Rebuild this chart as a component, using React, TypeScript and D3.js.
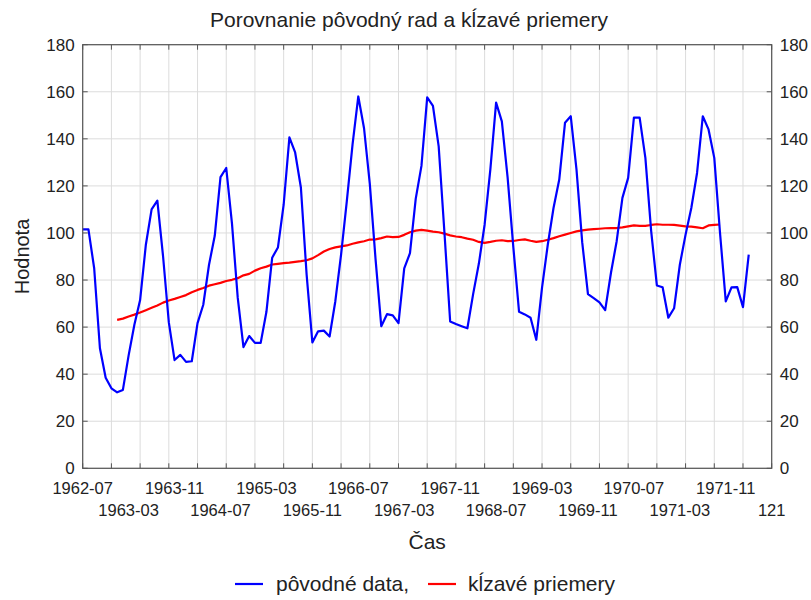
import React from "react";
import * as d3 from "d3";

// ---- data ----
const originalValues: number[] = [
  101.5, 101.5, 85, 51, 38.5, 34, 32.3, 33.3, 48, 61,
  71.5, 95, 110, 113.7, 90, 62, 46, 48.2, 45.2, 45.5,
  61.7, 69.5, 86.5, 98.8, 123.7, 127.6, 104, 72.5, 51.5, 56.2,
  53.3, 53.3, 66.5, 89.5, 93.8, 112, 140.6, 134.2, 119.3, 82.3,
  53.5, 58.2, 58.5, 56, 71, 90.8, 113.5, 137.6, 158, 144.5,
  121, 89, 60.4, 65.5, 65, 61.7, 85, 91.4, 114.5, 128.5,
  157.6, 154, 136.8, 100.3, 62.4, 61.3, 60.4, 59.5, 74, 87,
  103.5, 127, 155.4, 147.4, 123.7, 94, 66.5, 65.4, 64, 54.6,
  76.8, 95, 110.6, 122.7, 146.8, 149.6, 127, 96, 74, 72.3,
  70.5, 67.2, 83, 96.5, 114.9, 123.4, 149, 149, 131.9, 101,
  77.7, 76.9, 64, 68, 86.5, 99.3, 110.6, 125.5, 149.6, 144,
  131.9, 100, 70.9, 76.9, 77, 68.5, 90.8,
];

const movingAvgStart = 7; // first case number with a moving average value
const movingAvgValues: number[] = [
  63.1, 63.6, 64.5, 65.3, 66.2, 67.2, 68.2, 69.2, 70.4, 71.3,
  72, 72.8, 73.6, 74.8, 75.8, 76.6, 77.6, 78.2, 78.8, 79.6,
  80.1, 80.8, 82, 82.6, 84, 85, 85.7, 86.6, 86.9, 87.2,
  87.4, 87.7, 88, 88.4, 89.2, 90.6, 92.1, 93.2, 93.9, 94.3,
  94.7, 95.4, 96, 96.5, 97.2, 97.3, 97.8, 98.5, 98.2, 98.3,
  99.2, 100.3, 101, 101.3, 101, 100.6, 100.3, 99.7, 99, 98.5,
  98.2, 97.6, 97.1, 96.2, 95.8, 96.2, 96.7, 96.9, 96.5, 96.6,
  97, 97.3, 96.7, 96.2, 96.5, 97.1, 97.8, 98.6, 99.3, 100,
  100.7, 101.1, 101.4, 101.6, 101.8, 102, 102.1, 102.1, 102.4, 102.8,
  103.2, 103, 103, 103.4, 103.7, 103.5, 103.5, 103.4, 103.1, 102.8,
  102.7, 102.4, 102, 103.2, 103.4, 103.6,
];

const xTickCases: number[] = [1, 9, 17, 25, 33, 41, 49, 57, 65, 73, 81, 89, 97, 105, 113, 121];
const xTickLabels: string[] = [
  "1962-07", "1963-03", "1963-11", "1964-07", "1965-03", "1965-11", "1966-07", "1967-03",
  "1967-11", "1968-07", "1969-03", "1969-11", "1970-07", "1971-03", "1971-11", "121",
];
const yTicks: number[] = [0, 20, 40, 60, 80, 100, 120, 140, 160, 180];
const xGridCases: number[] = d3.range(1, 122, 5);

const titleText = "Porovnanie pôvodný rad a kĺzavé priemery";
const xTitle = "Čas";
const yTitle = "Hodnota";
const seriesNames = ["pôvodné data,", "kĺzavé priemery"];

// ---- layout ----
const W = 811;
const H = 600;
const L = 82.7;
const R = 771.7;
const T = 44.7;
const B = 468.3;
const FONT = "'Liberation Sans', Arial, sans-serif";
const TEXT = "#222";
const FRAME = "#555";
const GRID = "#dcdcdc";

export default function App() {
  const x = d3.scaleLinear().domain([1, 121]).range([L, R]);
  const y = d3.scaleLinear().domain([0, 180]).range([B, T]);

  const origPts: [number, number][] = originalValues.map((v, i) => [i + 1, v]);
  const maPts: [number, number][] = movingAvgValues.map((v, i) => [movingAvgStart + i, v]);
  const line = d3
    .line<[number, number]>()
    .x((d) => x(d[0]))
    .y((d) => y(d[1]));

  return (
    <svg
      width={W}
      height={H}
      style={{ position: "absolute", left: 0, top: 0, background: "#fff" }}
      fontFamily={FONT}
    >
      <rect x={0} y={0} width={W} height={H} fill="#fff" />
      <text x={409} y={27} textAnchor="middle" fontSize={21} fill={TEXT}>
        {titleText}
      </text>

      {/* grid */}
      {xGridCases.map((c) => (
        <line key={"gx" + c} x1={x(c)} x2={x(c)} y1={T} y2={B} stroke={GRID} strokeWidth={1} />
      ))}
      {yTicks.map((v) => (
        <line key={"gy" + v} x1={L} x2={R} y1={y(v)} y2={y(v)} stroke={GRID} strokeWidth={1} />
      ))}

      {/* ticks inside frame */}
      {xGridCases.map((c) => (
        <g key={"tx" + c}>
          <line x1={x(c)} x2={x(c)} y1={B} y2={B - 5} stroke={FRAME} />
          <line x1={x(c)} x2={x(c)} y1={T} y2={T + 5} stroke={FRAME} />
        </g>
      ))}
      {yTicks.map((v) => (
        <g key={"ty" + v}>
          <line x1={L} x2={L + 5} y1={y(v)} y2={y(v)} stroke={FRAME} />
          <line x1={R} x2={R - 5} y1={y(v)} y2={y(v)} stroke={FRAME} />
        </g>
      ))}

      {/* series */}
      <path d={line(maPts) || ""} fill="none" stroke="#ff0000" strokeWidth={2.2} strokeLinejoin="round" />
      <path d={line(origPts) || ""} fill="none" stroke="#0000ff" strokeWidth={2.2} strokeLinejoin="round" />

      {/* frame */}
      <rect x={L} y={T} width={R - L} height={B - T} fill="none" stroke={FRAME} strokeWidth={1.2} />

      {/* y tick labels */}
      {yTicks.map((v) => (
        <g key={"yl" + v}>
          <text x={L - 8} y={y(v) + 6} textAnchor="end" fontSize={17} fill={TEXT}>
            {v}
          </text>
          <text x={R + 8} y={y(v) + 6} textAnchor="start" fontSize={17} fill={TEXT}>
            {v}
          </text>
        </g>
      ))}

      {/* x tick labels */}
      {xTickCases.map((c, i) => (
        <text
          key={"xl" + c}
          x={x(c)}
          y={i % 2 === 0 ? 494 : 516}
          textAnchor="middle"
          fontSize={16.5}
          fill={TEXT}
        >
          {xTickLabels[i]}
        </text>
      ))}

      {/* axis titles */}
      <text x={(L + R) / 2} y={549} textAnchor="middle" fontSize={21} fill={TEXT}>
        {xTitle}
      </text>
      <text
        transform={`translate(29, ${(T + B) / 2}) rotate(-90)`}
        textAnchor="middle"
        fontSize={20}
        fill={TEXT}
      >
        {yTitle}
      </text>

      {/* legend */}
      <line x1={235} x2={263} y1={584} y2={584} stroke="#0000ff" strokeWidth={2.2} />
      <text x={276} y={591} fontSize={21} fill={TEXT}>
        {seriesNames[0]}
      </text>
      <line x1={428} x2={456} y1={584} y2={584} stroke="#ff0000" strokeWidth={2.2} />
      <text x={468} y={591} fontSize={21} fill={TEXT}>
        {seriesNames[1]}
      </text>
    </svg>
  );
}
